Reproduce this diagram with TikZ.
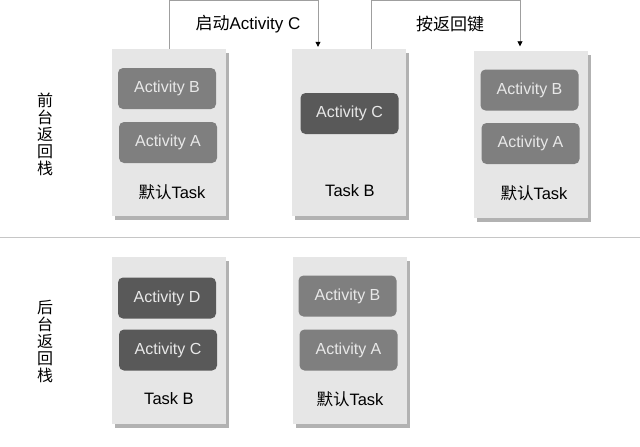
\documentclass[tikz,border=0pt]{standalone}
\usepackage{fontspec}
\setmainfont{Liberation Sans}
\newfontfamily\cjk{Noto Sans CJK SC}
\usetikzlibrary{shadows,arrows.meta}

\definecolor{panelgray}{HTML}{E6E6E6}
\definecolor{actmid}{HTML}{7F7F7F}
\definecolor{actdark}{HTML}{595959}
\definecolor{acttext}{HTML}{E8E8E8}

\tikzset{
  task/.style={fill=panelgray, minimum width=114pt, minimum height=167pt,
    drop shadow={shadow xshift=3pt, shadow yshift=-4pt, opacity=.3, fill=black}},
  act/.style={rounded corners=5pt, minimum width=98pt, minimum height=41pt,
    text=acttext, font=\fontsize{16}{19}\selectfont},
  actmid/.style={act, fill=actmid},
  actdark/.style={act, fill=actdark},
  tasklabel/.style={font=\fontsize{16.5}{20}\selectfont},
  stacklabel/.style={align=center, font=\cjk\fontsize{16}{17}\selectfont},
  link/.style={draw=gray!75, line width=.8pt, -{Triangle[length=5pt,width=5pt,color=black]}}
}

\begin{document}
\begin{tikzpicture}[x=1pt,y=-1pt] % 5 tasks
      \useasboundingbox (0,0) rectangle (640,447);
      % foreground stack
      \node[task, name=dflt1] at (169,132.5){};
      \node[task, name=taskb] at (349,132.5){};
      \node[task, name=dflt2] at (531,134){};
      \node[actmid, name=b1] at (167,88.5){Activity B};
      \node[actmid, name=a1] at (168,142.5){Activity A};
      \node[actdark, name=c1] at (349.5,113.5){Activity C};
      \node[actmid, name=b2] at (529.5,90){Activity B};
      \node[actmid, name=a2] at (530.5,143.5){Activity A};
      \node[tasklabel, name=l1] at (172,192){{\cjk 默认}Task};
      \node[tasklabel, name=l2] at (350,191){Task B};
      \node[tasklabel, name=l3] at (534,193){{\cjk 默认}Task};
      % background stack
      \node[task, name=taskb2] at (168.5,340.5){};
      \node[task, name=dflt3] at (349.5,340.5){};
      \node[actdark, name=d3] at (167,298){Activity D};
      \node[actdark, name=c3] at (168,350){Activity C};
      \node[actmid, name=b3] at (347.5,296){Activity B};
      \node[actmid, name=a3] at (348.5,350){Activity A};
      \node[tasklabel, name=l4] at (169,399){Task B};
      \node[tasklabel, name=l5] at (350,399){{\cjk 默认}Task};
      % stack names and divider
      \node[stacklabel, name=front] at (45,134.5){前\\台\\返\\回\\栈};
      \node[stacklabel, name=back] at (45,341.5){后\\台\\返\\回\\栈};
      \draw[gray!45, line width=1pt] (0,237) -- (640,237);
      % transitions
      \draw[link] (dflt1.north) -- ++(0,-48) -| ([xshift=-31pt,yshift=2pt]taskb.north);
      \draw[link] ([xshift=22pt]taskb.north) -- ++(0,-48) -| ([xshift=-11pt,yshift=4pt]dflt2.north);
      \node[font=\fontsize{17}{20}\selectfont, name=t1] at (248,24){{\cjk 启动}Activity C};
      \node[font=\cjk\fontsize{17}{20}\selectfont, name=t2] at (450,24){按返回键};
   \end{tikzpicture}
\end{document}
